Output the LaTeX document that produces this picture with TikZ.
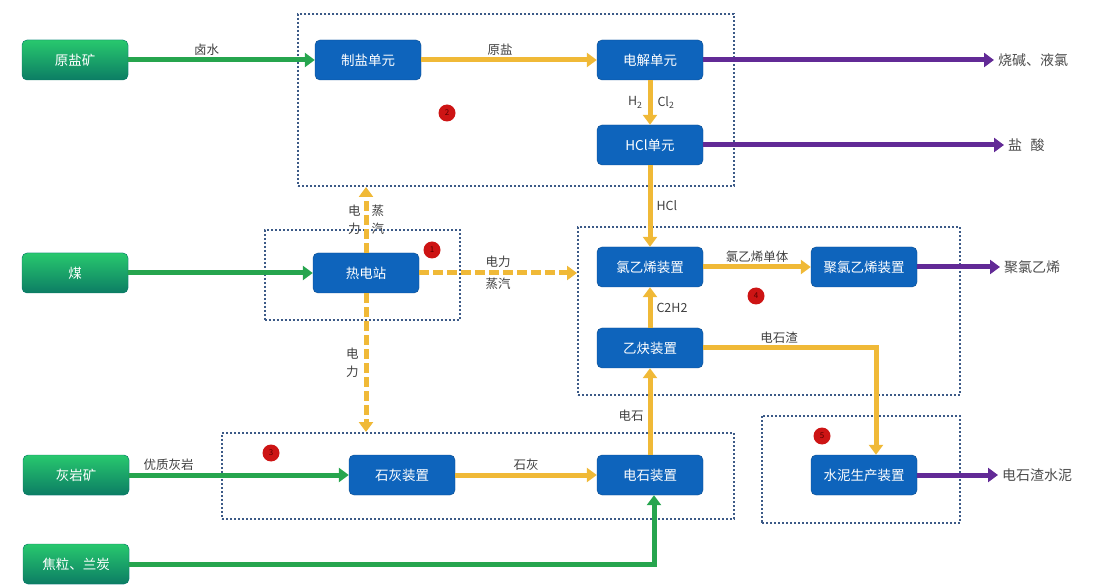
\documentclass[tikz,border=0pt]{standalone}
\usepackage{fontspec}
\setmainfont{Noto Sans CJK SC}
\usetikzlibrary{positioning,arrows.meta}
\definecolor{minetop}{RGB}{40,200,110}
\definecolor{minebot}{RGB}{12,125,100}
\definecolor{unitblue}{RGB}{14,100,188}
\definecolor{flowyellow}{RGB}{240,185,55}
\definecolor{flowgreen}{RGB}{38,165,78}
\definecolor{flowpurple}{RGB}{98,42,150}
\definecolor{zonecol}{RGB}{60,90,135}
\definecolor{badgered}{RGB}{205,20,20}

\begin{document}
\begin{tikzpicture}[x=1pt, y=-1pt,
    unit/.style={draw=unitblue!75!black, fill=unitblue, rounded corners=5pt,
        minimum width=106pt, minimum height=40pt, inner sep=0pt,
        text=white, font=\fontsize{13.5}{15}\selectfont},
    mine/.style={unit, top color=minetop, bottom color=minebot, draw=minebot},
    zone/.style={draw=zonecol, dash pattern=on 2pt off 2pt, line width=2pt, inner sep=0pt},
    badge/.style={circle, fill=badgered, minimum size=17pt, inner sep=0pt,
        text=red!35!black, font=\fontsize{8}{8}\selectfont},
    prod/.style={text=black!70, inner sep=4pt, anchor=west,
        font=\fontsize{14}{16}\selectfont},
    lbl/.style={text=black!75, inner sep=2pt, font=\fontsize{12.5}{18}\selectfont},
    flowg/.style={draw=flowgreen, line width=5pt, -{Triangle[length=10pt,width=14pt]}},
    flowy/.style={draw=flowyellow, line width=5pt, -{Triangle[length=10pt,width=14pt]}},
    flowp/.style={draw=flowpurple, line width=5pt, -{Triangle[length=10pt,width=14pt]}},
    flowyd/.style={flowy, dash pattern=on 10pt off 4pt}
    ]
    \useasboundingbox (0,0) rectangle (1101,585);

    % dotted zones
    \node[zone, minimum width=436pt, minimum height=172pt] (zone2) at (516,100) {};
    \node[zone, minimum width=195pt, minimum height=90pt] (zone1) at (362,275) {};
    \node[zone, minimum width=382pt, minimum height=168pt] (zone4) at (769,311) {};
    \node[zone, minimum width=512pt, minimum height=86pt] (zone3) at (478,476) {};
    \node[zone, minimum width=198pt, minimum height=107pt] (zone5) at (861,469) {};

    % raw materials
    \node[mine] (yky) at (75,60) {原盐矿};
    \node[mine] (mei) at (75,273) {煤};
    \node[mine] (hyk) at (76,475) {灰岩矿};
    \node[mine] (jl) at (76,564) {焦粒、兰炭};

    % process units
    \node[unit] (zy) at (368,60) {制盐单元};
    \node[unit] (dj) at (650,60) {电解单元};
    \node[unit] (hcl) at (650,145) {HCl单元};
    \node[unit] (rdz) at (366,273) {热电站};
    \node[unit] (lyx) at (650,267) {氯乙烯装置};
    \node[unit] (jlyx) at (864,267) {聚氯乙烯装置};
    \node[unit] (yq) at (650,348) {乙炔装置};
    \node[unit] (shz) at (402,475) {石灰装置};
    \node[unit] (dsz) at (650,475) {电石装置};
    \node[unit] (sn) at (864,475) {水泥生产装置};

    % products
    \node[prod] (sj) at (994,60) {烧碱、液氯};
    \node[prod] (ys) at (1004,145) {盐\hspace{0.6em}酸};
    \node[prod] (pvc) at (1000,267) {聚氯乙烯};
    \node[prod] (dszn) at (998,475) {电石渣水泥};

    % numbered marks
    \node[badge] (m1) at (432,250) {1};
    \node[badge] (m2) at (447,113) {2};
    \node[badge] (m3) at (271,453) {3};
    \node[badge] (m4) at (756,296) {4};
    \node[badge] (m5) at (822,436) {5};

    % salt and chlor-alkali
    \draw[flowg] (yky.east) -- (zy.west) node[lbl, pos=0.42, above] (l1) {卤水};
    \draw[flowy] (zy.east) -- (dj.west) node[lbl, pos=0.45, above] (l2) {原盐};
    \draw[flowp] (dj.east) -- (sj.west);
    \draw[flowy] (dj.south) -- (hcl.north)
        node[lbl, midway, left=3pt] (l3) {H\textsubscript{2}}
        node[lbl, midway, right=3pt] (l4) {Cl\textsubscript{2}};
    \draw[flowp] (hcl.east) -- (ys.west);
    \draw[flowy] (hcl.south) -- (lyx.north) node[lbl, midway, right=2pt] (l5) {HCl};

    % power station
    \draw[flowg] (mei.east) -- (rdz.west);
    \draw[flowyd] (rdz.north) -- (rdz.north |- zone2.south)
        node[lbl, midway, left=1pt, align=center] (l6) {电\\力}
        node[lbl, midway, right=1pt, align=center] (l7) {蒸\\汽};
    \draw[flowyd] (rdz.east) -- (rdz.east -| zone4.west)
        node[lbl, midway, above=1pt] (l8) {电力}
        node[lbl, midway, below=1pt] (l9) {蒸汽};
    \draw[flowyd] (rdz.south) -- (rdz.south |- zone3.north)
        node[lbl, midway, left=3pt, align=center] (l10) {电\\力};

    % PVC
    \draw[flowy] (lyx.east) -- (jlyx.west) node[lbl, midway, above] (l11) {氯乙烯单体};
    \draw[flowp] (jlyx.east) -- (pvc.west);
    \draw[flowy] (yq.north) -- (lyx.south) node[lbl, midway, right=2pt] (l12) {C2H2};
    \draw[flowy] (yq.east) -| ([xshift=12pt]sn.north) node[lbl, pos=0.22, above] (l13) {电石渣};
    \draw[flowp] (sn.east) -- (dszn.west);

    % lime and carbide
    \draw[flowg] (hyk.east) -- (shz.west) node[lbl, pos=0.18, above] (l14) {优质灰岩};
    \draw[flowy] (shz.east) -- (dsz.west) node[lbl, midway, above] (l15) {石灰};
    \draw[flowy] (dsz.north) -- (yq.south) node[lbl, pos=0.45, left=2pt] (l16) {电石};
    \draw[flowg] (jl.east) -| ([xshift=4pt]dsz.south);
\end{tikzpicture}
\end{document}
